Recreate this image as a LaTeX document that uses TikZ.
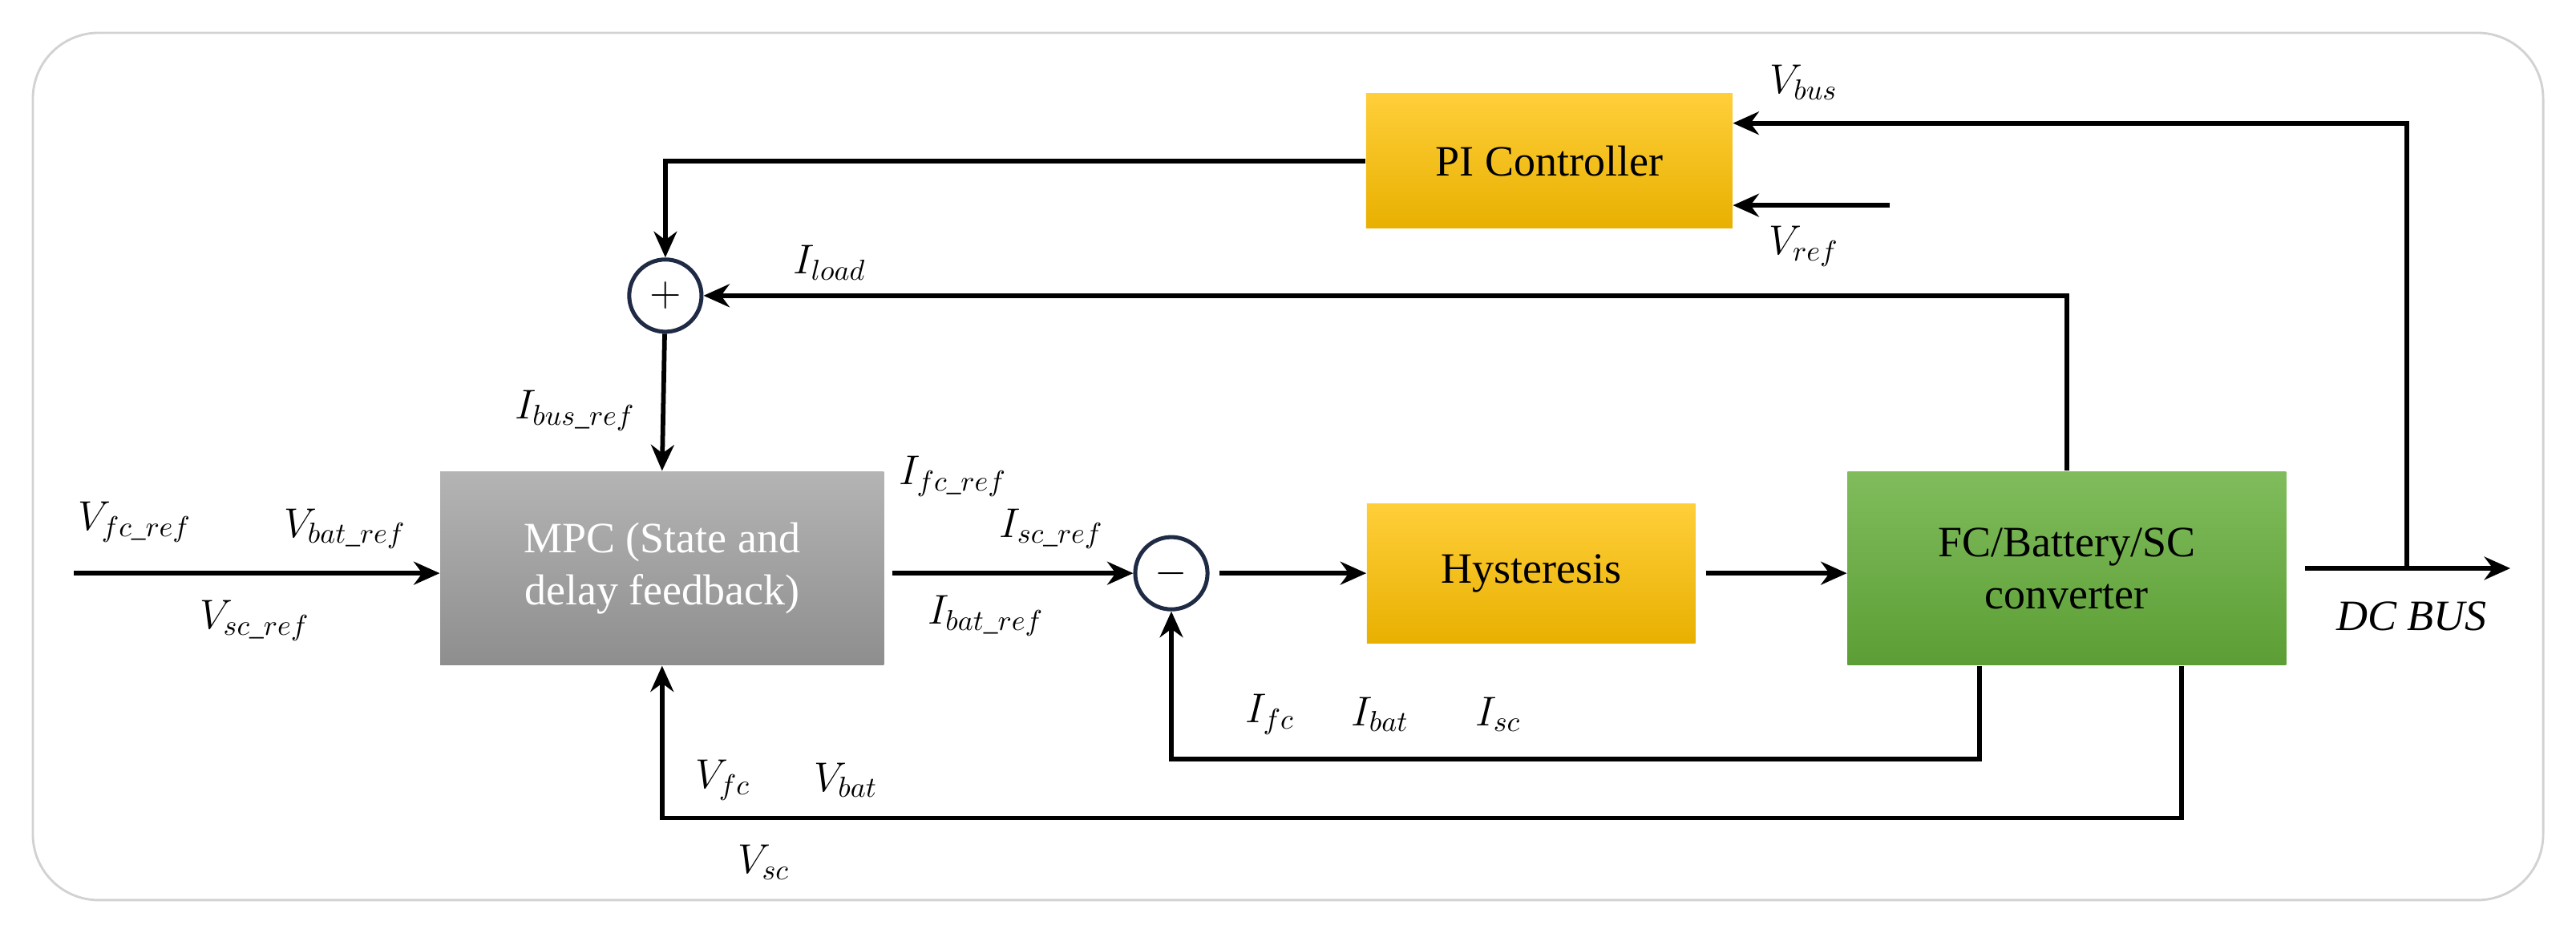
\documentclass[tikz,border=0pt]{standalone}
\usepackage{fontspec}
\setmainfont{Liberation Serif}
\usetikzlibrary{arrows,arrows.meta}
\usepackage{amsmath}
\definecolor{pitop}{HTML}{FFCF3A}
\definecolor{pibot}{HTML}{E8B000}
\definecolor{fctop}{HTML}{80BC5C}
\definecolor{fcbot}{HTML}{5C9E35}
\definecolor{mpctop}{HTML}{B4B4B4}
\definecolor{mpcbot}{HTML}{8E8E8E}
\definecolor{ring}{HTML}{1F2A44}
\tikzstyle{block} = [rectangle, draw=none, align=center, font=\fontsize{15}{18}\selectfont]
\tikzstyle{ctrl} = [block, top color=pitop, bottom color=pibot, minimum width=4.46cm, minimum height=1.64cm]
\tikzstyle{sum} = [circle, draw=ring, line width=1.4pt, minimum size=0.88cm, inner sep=0pt, font=\fontsize{15}{18}\selectfont]
\tikzstyle{lbl} = [font=\fontsize{14}{16}\selectfont, inner sep=1pt]
\tikzset{edge/.style = {
    line width=1.6pt,
    -{Stealth[length=9pt, width=8pt]},
  }
}
\begin{document}
\begin{tikzpicture}[x=0.02cm, y=-0.02cm]
  \useasboundingbox (0,0) rectangle (1568,568);
  \draw[gray!35, line width=0.8pt, rounded corners=0.8cm] (20,20) rectangle (1548,548);

  % vertices
  \node[ctrl] (pi) at (943,98) {PI Controller};
  \node[ctrl, minimum width=4cm, minimum height=1.7cm] (hys) at (932,349) {Hysteresis};
  \node[block, top color=mpctop, bottom color=mpcbot, text=white, minimum width=5.4cm, minimum height=2.36cm] (mpc) at (403,346) {MPC (State and\\delay feedback)};
  \node[block, top color=fctop, bottom color=fcbot, minimum width=5.34cm, minimum height=2.36cm] (fc) at (1258,346) {FC/Battery/SC\\converter};
  \node[sum] (plus) at (405,180) {$+$};
  \node[sum] (minus) at (713,349) {$-$};

  \coordinate (vin) at (45,349);
  \coordinate (vrefin) at (1150,125);
  \coordinate (bus) at (1528,346);
  \coordinate (busout) at (1403,346);
  \coordinate (tap) at (1465,346);

  % edges
  \draw[edge] (pi.west) -| (plus.north);
  \draw[edge] (plus) to (mpc.north);
  \draw[edge] (vin) to (mpc.west |- vin);
  \draw[edge] (mpc.east |- minus) ++(5,0) to (minus.west);
  \draw[edge] (minus.east) ++(6,0) to (hys.west);
  \draw[edge] (hys.east) ++(6,0) to (fc.west |- hys);
  \draw[edge] (busout) to (bus);
  \draw[edge] (tap) |- (pi.east |- 0,75);
  \draw[edge] (vrefin) to (pi.east |- vrefin);
  \draw[edge] (fc.north) |- (plus.east);
  \draw[edge] (fc.south -| 1205,0) |- (713,462) to (minus.south);
  \draw[edge] (fc.south -| 1328,0) |- (403,498) to (mpc.south);

  % labels
  \node[lbl] at (1098,50) {$V_{bus}$};
  \node[lbl] at (1098,150) {$V_{ref}$};
  \node[lbl] at (505,160) {$I_{load}$};
  \node[lbl] at (350,250) {$I_{bus\_ref}$};
  \node[lbl] at (82,318) {$V_{fc\_ref}$};
  \node[lbl] at (210,322) {$V_{bat\_ref}$};
  \node[lbl] at (155,378) {$V_{sc\_ref}$};
  \node[lbl] at (580,290) {$I_{fc\_ref}$};
  \node[lbl] at (640,322) {$I_{sc\_ref}$};
  \node[lbl] at (600,375) {$I_{bat\_ref}$};
  \node[lbl] at (773,435) {$I_{fc}$};
  \node[lbl] at (840,435) {$I_{bat}$};
  \node[lbl] at (912,435) {$I_{sc}$};
  \node[lbl] at (440,475) {$V_{fc}$};
  \node[lbl] at (515,475) {$V_{bat}$};
  \node[lbl] at (465,525) {$V_{sc}$};
  \node[lbl, font=\fontsize{15}{18}\selectfont\itshape] at (1468,375) {DC BUS};
\end{tikzpicture}
\end{document}
